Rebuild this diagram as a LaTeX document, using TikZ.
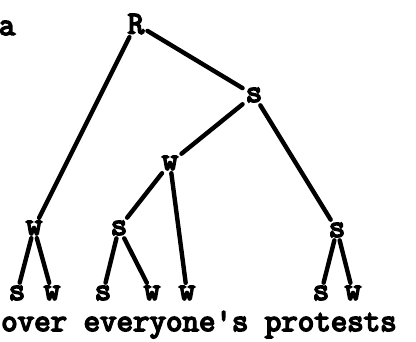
\documentclass[tikz,border=0pt]{standalone}
\usepackage{fontspec}
\setmonofont{Latin Modern Mono}[AutoFakeBold=5]
\tikzset{
  lab/.style={font=\ttfamily\bfseries\fontsize{32}{34}\selectfont, inner sep=3pt},
  edge/.style={line width=4.4pt, line cap=round}
}
\begin{document}
\begin{tikzpicture}[x=1pt,y=-1pt]
    \useasboundingbox (0,0) rectangle (416,341);
    \node[lab] (a) at (7,28) {a};
    % tree nodes
    \node[lab] (R) at (136,24) {R};
    \node[lab] (sA) at (254,95) {s};
    \node[lab] (wB) at (170,163) {w};
    \node[lab] (wL) at (34,228) {w};
    \node[lab] (sM) at (119,228) {s};
    \node[lab] (sR) at (337,230) {s};
    \foreach \n/\x/\t in {l1/17/s,l2/52/w,l3/103/s,l4/152/w,l5/187/w,l6/321/s,l7/353/w}
        \node[lab] (\n) at (\x,293) {\t};
    \foreach \p/\c in {R/sA,R/wL,sA/wB,sA/sR,wB/sM,wB/l5,wL/l1,wL/l2,sM/l3,sM/l4,sR/l6,sR/l7}
        \draw[edge] (\p) -- (\c);
    \node[lab, inner sep=0pt, anchor=base west] (words) at (1,331) {over everyone's protests};
\end{tikzpicture}
\end{document}
